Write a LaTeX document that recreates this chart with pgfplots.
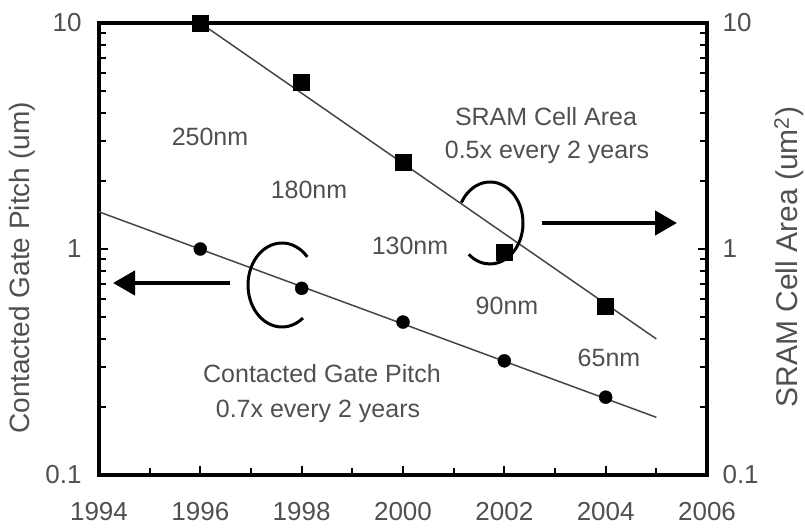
\documentclass[border=0pt]{standalone}
\usepackage{fontspec}
\setmainfont{Liberation Sans}
\usepackage{pgfplots}
\pgfplotsset{compat=1.18}
\usetikzlibrary{arrows.meta}
\definecolor{txt}{RGB}{80,80,80}
\definecolor{fitc}{RGB}{70,70,70}
\newcommand\bigfont{\fontsize{26pt}{30pt}\selectfont}
\newcommand\annfont{\fontsize{25pt}{29pt}\selectfont}
\begin{document}
\begin{tikzpicture}
\begin{axis}[
  scale only axis, width=608pt, height=452pt,
  xmin=1994, xmax=2006, ymode=log, ymin=0.1, ymax=10,
  axis line style={line width=3.5pt, black, line join=miter},
  tick style={line width=2pt, black},
  major tick length=9pt, minor tick length=7pt,
  tick align=inside,
  ytick={0.1,1,10}, yticklabels={0.1,1,10},
  minor ytick={0.2,0.3,0.4,0.5,0.6,0.7,0.8,0.9,2,3,4,5,6,7,8,9},
  tick label style={font=\bigfont, text=txt},
  label style={text=txt},
  xtick={1994,1996,1998,2000,2002,2004,2006},
  xticklabels={1994,1996,1998,2000,2002,2004,2006},
  minor xtick={1995,1997,1999,2001,2003,2005},
  xtick pos=left, ytick pos=left,
  xticklabel style={yshift=-24pt},
  yticklabel style={xshift=-14pt},
  ylabel={Contacted Gate Pitch (um)},
  ylabel style={font=\fontsize{28pt}{32pt}\selectfont, at={(axis description cs:-0.127,0.458)}, anchor=center},
]
\addplot[fitc, line width=1.5pt] coordinates {(1994,1.46) (2005,0.18)};
\addplot[only marks, mark=*, mark size=6.5pt, black] coordinates {
(1996,1.00) (1998,0.67) (2000,0.475) (2002,0.32) (2004,0.221)};
\end{axis}
\begin{axis}[
  scale only axis, width=608pt, height=452pt,
  xmin=1994, xmax=2006, ymode=log, ymin=0.1, ymax=10,
  axis line style={line width=3.5pt, black, line join=miter},
  tick style={line width=2pt, black},
  major tick length=9pt, minor tick length=7pt,
  tick align=inside,
  ytick={0.1,1,10}, yticklabels={0.1,1,10},
  minor ytick={0.2,0.3,0.4,0.5,0.6,0.7,0.8,0.9,2,3,4,5,6,7,8,9},
  tick label style={font=\bigfont, text=txt},
  label style={text=txt},
  axis x line=none, axis y line*=right,
  yticklabel style={xshift=12pt},
  ylabel={SRAM Cell Area (um\textsuperscript{2})},
  ylabel style={font=\fontsize{30pt}{34pt}\selectfont, at={(axis description cs:1.135,0.482)}, anchor=center},
]
\addplot[fitc, line width=1.5pt] coordinates {(1996,10) (2005,0.40)};
\addplot[only marks, mark=square*, mark size=8pt, black] coordinates {
(1996,10) (1998,5.45) (2000,2.42) (2002,0.97) (2004,0.56)};
\end{axis}
\begin{scope}[shift={(-99pt,475pt)}, x=1pt, y=-1pt]
\tikzset{ann/.style={font=\annfont, text=txt}}
\node[ann] at (210,137) {250nm};
\node[ann] at (309,190) {180nm};
\node[ann] at (410,246) {130nm};
\node[ann] at (507,306) {90nm};
\node[ann] at (609,358) {65nm};
\node[ann] at (546,117) {SRAM Cell Area};
\node[ann] at (547,152) {0.5x every 2 years};
\node[ann] at (322,374) {Contacted Gate Pitch};
\node[ann] at (318,411) {0.7x every 2 years};
\draw[line width=4.5pt, -{Triangle[length=22pt,width=24pt]}] (230,283) -- (113,283);
\draw[line width=4.5pt, -{Triangle[length=22pt,width=24pt]}] (542,223) -- (677,223);
\draw[line width=3pt] ([shift={(42:34pt and 42pt)}]282,285) arc[start angle=42, end angle=308, x radius=34pt, y radius=42pt];
\draw[line width=3pt] ([shift={(150:33pt and 41pt)}]490,223) arc[start angle=150, end angle=-130, x radius=33pt, y radius=41pt];
\end{scope}
\pgfresetboundingbox
\useasboundingbox (-99pt,-57pt) rectangle (706pt,475pt);
\end{tikzpicture}
\end{document}
